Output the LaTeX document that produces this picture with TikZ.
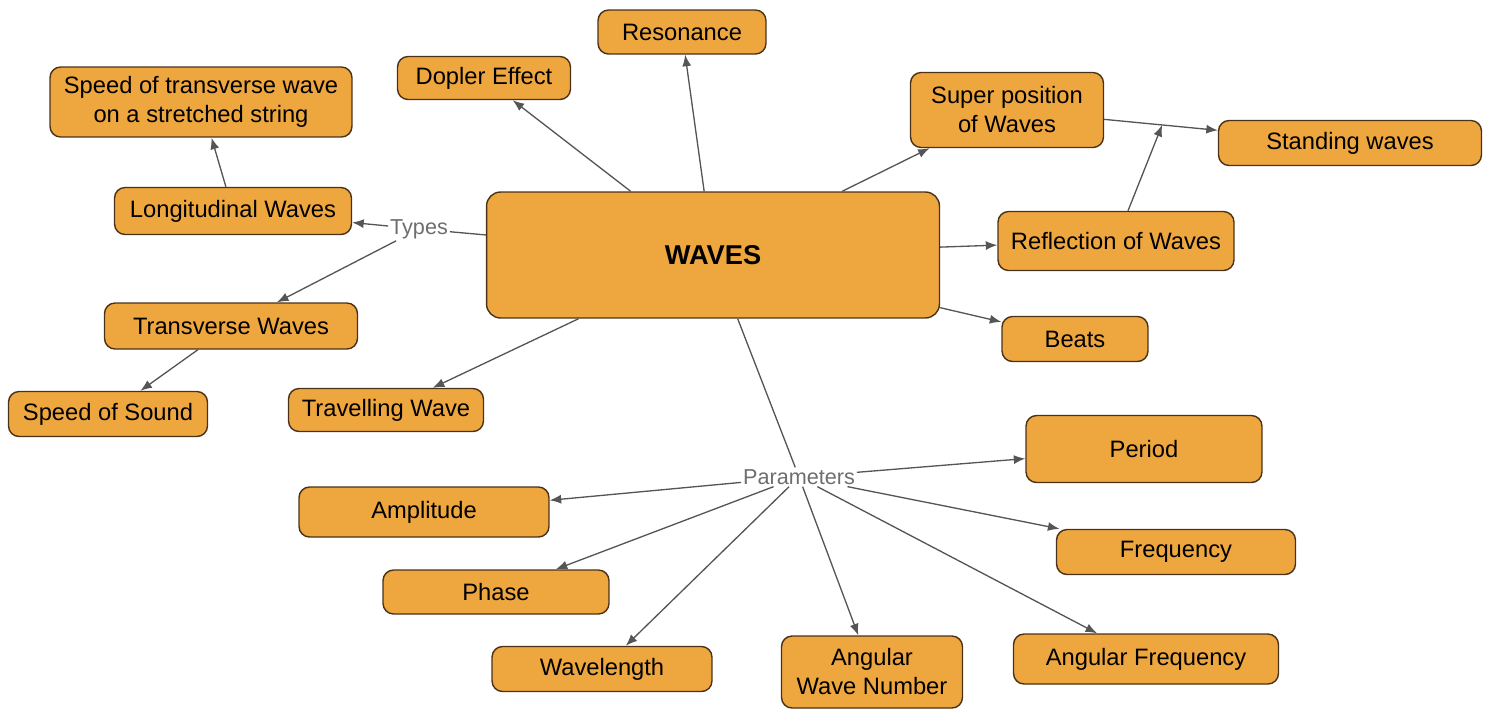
\documentclass[tikz,border=0pt]{standalone}
\usepackage{fontspec}
\setmainfont{Liberation Sans}
\usepackage{xcolor}
\usetikzlibrary{positioning, arrows.meta, calc}

\definecolor{boxfill}{HTML}{EEA63E}
\definecolor{boxline}{HTML}{4A3218}
\definecolor{linkgray}{HTML}{555555}
\definecolor{labelgray}{HTML}{6E6E6E}

\begin{document}
\begin{tikzpicture}[
x=0.02cm, y=-0.02cm,
    topic/.style={rectangle, draw=boxline, fill=boxfill, line width=0.8pt, rounded corners=6pt, inner sep=0pt, align=center, minimum height=0.9cm, font=\fontsize{13.5}{16.5}\selectfont},
    main/.style={topic, rounded corners=8pt, font=\fontsize{15.5}{18}\selectfont\bfseries},
    linklabel/.style={inner sep=1pt, text=labelgray, font=\fontsize{12.3}{14}\selectfont},
    link/.style={draw=linkgray, line width=0.75pt},
    arr/.style={link, -{Latex[length=2.3mm,width=1.8mm]}}
]
    \useasboundingbox (0,0) rectangle (1485,711);

    % --- Central Topic ---
    \node[main, minimum width=9.06cm, minimum height=2.52cm] (waves) at (713,255) {WAVES};

    % --- Upper Branch ---
    \node[topic, minimum width=3.36cm, minimum height=0.88cm] (reson) at (682,32) {Resonance};
    \node[topic, minimum width=3.46cm, minimum height=0.86cm] (dopler) at (484,78) {Dopler Effect};
    \node[topic, minimum width=3.86cm, minimum height=1.5cm] (superpos) at (1007,110) {Super position\\of Waves};
    \node[topic, minimum width=5.26cm] (standing) at (1350,143) {Standing waves};
    \node[topic, minimum width=4.72cm, minimum height=1.18cm] (reflect) at (1116,241) {Reflection of Waves};
    \node[topic, minimum width=2.92cm] (beats) at (1075,339) {Beats};
    \node[topic, minimum width=3.9cm, minimum height=0.86cm] (travel) at (386,410) {Travelling Wave};

    \draw[arr] (waves) -- (dopler);
    \draw[arr] (waves) -- (reson);
    \draw[arr] (waves) -- (superpos);
    \draw[arr] (waves) -- (reflect);
    \draw[arr] (waves) -- (beats);
    \draw[arr] (waves) -- (travel);

    % Superposition and reflection both lead to standing waves
    \draw[arr] (superpos) -- (standing) coordinate[pos=0.51] (meet);
    \draw[arr] (reflect) -- (meet);

    % --- Types ---
    \node[linklabel] (types) at (419,229) {Types};
    \node[topic, minimum width=4.74cm, minimum height=0.94cm] (longit) at (233,211) {Longitudinal Waves};
    \node[topic, minimum width=5.06cm, minimum height=0.92cm] (transv) at (231,326) {Transverse Waves};
    \node[topic, minimum width=6.04cm, minimum height=1.4cm] (string) at (201,102) {Speed of transverse wave\\on a stretched string};
    \node[topic, minimum width=3.98cm] (sound) at (108,414) {Speed of Sound};

    \draw[link] (waves) -- (types);
    \draw[arr] (types) -- (longit);
    \draw[arr] (types) -- (transv);
    \draw[arr] (longit) -- (string);
    \draw[arr] (transv) -- (sound);

    % --- Parameters ---
    \node[linklabel] (params) at (799,477) {Parameters};
    \node[topic, minimum width=4.72cm, minimum height=1.34cm] (period) at (1144,449) {Period};
    \node[topic, minimum width=4.78cm] (freq) at (1176,552) {Frequency};
    \node[topic, minimum width=5.3cm, minimum height=1.0cm] (angfreq) at (1146,659) {Angular Frequency};
    \node[topic, minimum width=3.62cm, minimum height=1.44cm] (wavenum) at (872,672) {Angular\\Wave Number};
    \node[topic, minimum width=4.4cm] (wavelen) at (602,669) {Wavelength};
    \node[topic, minimum width=4.52cm, minimum height=0.88cm] (phase) at (496,592) {Phase};
    \node[topic, minimum width=5.0cm, minimum height=1.0cm] (ampl) at (424,512) {Amplitude};

    \draw[link] (waves) -- (params);
    \draw[arr] (params) -- (period);
    \draw[arr] (params) -- (freq);
    \draw[arr] (params) -- (angfreq);
    \draw[arr] (params) -- (wavenum);
    \draw[arr] (params) -- (wavelen);
    \draw[arr] (params) -- (phase);
    \draw[arr] (params) -- (ampl);

\end{tikzpicture}
\end{document}
